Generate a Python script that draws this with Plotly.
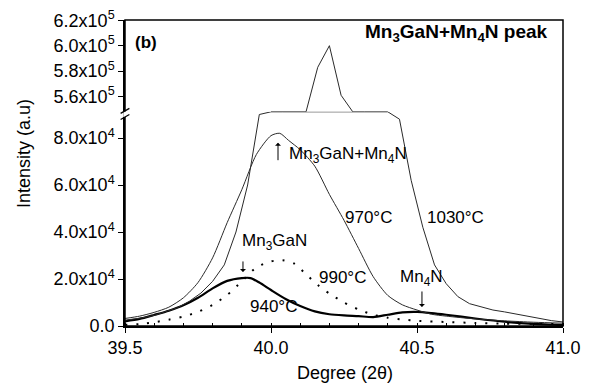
import plotly.graph_objects as go

# ---------------- data ----------------
x_940 = [39.50, 39.55, 39.60, 39.65, 39.70, 39.75, 39.80, 39.85, 39.90, 39.93, 39.96, 40.00,
         40.05, 40.10, 40.15, 40.20, 40.25, 40.30, 40.35, 40.40, 40.45, 40.50, 40.55, 40.60,
         40.70, 40.80, 40.90, 41.00]
y_940 = [2.0e3, 3.0e3, 4.7e3, 6.5e3, 8.8e3, 1.2e4, 1.6e4, 1.92e4, 2.04e4, 2.04e4, 1.85e4, 1.53e4,
         1.15e4, 8.5e3, 6.2e3, 5.0e3, 4.5e3, 4.2e3, 3.8e3, 4.8e3, 5.8e3, 6.0e3, 5.5e3, 4.8e3,
         3.2e3, 1.8e3, 9.0e2, 4.0e2]

x_970 = [39.50, 39.55, 39.60, 39.65, 39.70, 39.75, 39.80, 39.85, 39.90, 39.95, 40.00, 40.03,
         40.06, 40.10, 40.15, 40.20, 40.25, 40.30, 40.35, 40.40, 40.45, 40.50, 40.55, 40.60,
         40.70, 40.80, 40.90, 41.00]
y_970 = [3.2e3, 4.2e3, 5.8e3, 8.0e3, 1.2e4, 1.85e4, 2.9e4, 4.4e4, 5.8e4, 7.3e4, 8.1e4, 8.2e4,
         7.9e4, 7.5e4, 6.8e4, 5.6e4, 4.5e4, 3.3e4, 2.1e4, 1.3e4, 9.0e3, 6.8e3, 5.0e3, 4.2e3,
         3.0e3, 2.2e3, 1.6e3, 1.2e3]

x_990 = [39.50, 39.55, 39.60, 39.65, 39.70, 39.75, 39.80, 39.85, 39.90, 39.95, 40.00, 40.04,
         40.08, 40.12, 40.16, 40.20, 40.25, 40.30, 40.35, 40.40, 40.45, 40.50, 40.60, 40.70,
         40.80, 40.90, 41.00]
y_990 = [5.0e2, 8.0e2, 1.6e3, 2.7e3, 4.0e3, 6.0e3, 9.0e3, 1.32e4, 1.9e4, 2.5e4, 2.75e4, 2.8e4,
         2.65e4, 2.2e4, 1.75e4, 1.38e4, 1.0e4, 7.0e3, 4.8e3, 3.5e3, 2.8e3, 2.2e3, 1.7e3, 1.3e3,
         1.0e3, 9.0e2, 8.0e2]

x_1030 = [39.50, 39.56, 39.60, 39.64, 39.68, 39.72, 39.76, 39.80, 39.84, 39.88, 39.92, 39.96,
          40.00, 40.04, 40.08, 40.12, 40.16, 40.20, 40.24, 40.28, 40.32, 40.36, 40.40, 40.44,
          40.48, 40.52, 40.56, 40.60, 40.64, 40.68, 40.72, 40.76, 40.80, 40.84, 40.88, 40.92,
          40.96, 41.00]
y_1030 = [2.5e3, 3.5e3, 4.5e3, 6.0e3, 7.8e3, 1.05e4, 1.4e4, 1.9e4, 2.6e4, 4.0e4, 6.0e4, 9.0e4,
          1.5e5, 2.4e5, 3.6e5, 5.42e5, 5.83e5, 6.0e5, 5.61e5, 5.45e5, 3.8e5, 2.5e5, 1.5e5, 8.8e4,
          6.2e4, 4.2e4, 2.6e4, 1.8e4, 1.25e4, 9.5e3, 8.0e3, 6.8e3, 6.0e3, 5.0e3, 4.0e3, 3.0e3,
          2.3e3, 1.7e3]

x_ticks = [39.5, 40.0, 40.5, 41.0]
x_ticktext = ["39.5", "40.0", "40.5", "41.0"]
y_low_ticks = [0, 2e4, 4e4, 6e4, 8e4]
y_low_ticktext = ["0.0", "2.0x10<sup>4</sup>", "4.0x10<sup>4</sup>", "6.0x10<sup>4</sup>", "8.0x10<sup>4</sup>"]
y_high_ticks = [5.6e5, 5.8e5, 6.0e5, 6.2e5]
y_high_ticktext = ["5.6x10<sup>5</sup>", "5.8x10<sup>5</sup>", "6.0x10<sup>5</sup>", "6.2x10<sup>5</sup>"]

# axis break
LOW_TOP = 9.115e4
HIGH_BOTTOM = 5.48e5
HIGH_TOP = 6.202e5
SPLIT = 0.7

FONT = "Liberation Sans, Arial, sans-serif"

series = [
    ("940°C", x_940, y_940, dict(color="black", width=2.2, shape="spline", smoothing=0.7)),
    ("970°C", x_970, y_970, dict(color="#2a2a2a", width=1.0, shape="spline", smoothing=0.7)),
    ("990°C", x_990, y_990, dict(color="black", width=2.0, dash="2px,9px", shape="spline", smoothing=0.7)),
    ("1030°C", x_1030, y_1030, dict(color="#2a2a2a", width=1.0)),
]

fig = go.Figure()
for name, xs, ys, line in series:
    low = [min(v, LOW_TOP) for v in ys]
    high = [max(v, HIGH_BOTTOM) if v > LOW_TOP else None for v in ys]
    fig.add_trace(go.Scatter(x=xs, y=low, mode="lines", line=line, name=name,
                             showlegend=False, xaxis="x", yaxis="y"))
    if any(h is not None for h in high):
        fig.add_trace(go.Scatter(x=xs, y=high, mode="lines", line=line, name=name,
                                 showlegend=False, xaxis="x", yaxis="y2", connectgaps=False))

axis_common = dict(showgrid=False, zeroline=False, showline=True, linecolor="black", linewidth=1.5,
                   ticks="outside", ticklen=5, tickwidth=1.2, tickcolor="black", automargin=False,
                   tickfont=dict(family=FONT, size=18, color="black"))

# the page body adds an 8px offset, so the figure is 8px smaller and margins compensate
fig.update_layout(
    width=584, height=377,
    margin=dict(l=117, r=29, t=12, b=59, autoexpand=False),
    paper_bgcolor="white", plot_bgcolor="white",
    xaxis=dict(range=[39.5, 41.0], tickvals=x_ticks, ticktext=x_ticktext, anchor="y",
               minor=dict(dtick=0.1, ticks="inside", ticklen=3, tickcolor="black"),
               **axis_common),
    yaxis=dict(domain=[0, SPLIT], range=[0, LOW_TOP], tickvals=y_low_ticks, ticktext=y_low_ticktext,
               anchor="x", **axis_common),
    yaxis2=dict(domain=[SPLIT, 1], range=[HIGH_BOTTOM, HIGH_TOP], tickvals=y_high_ticks,
                ticktext=y_high_ticktext, anchor="x", ticklabeloverflow="allow", **axis_common),
)

# frame
fig.add_shape(type="rect", xref="paper", yref="paper", x0=0, x1=1, y0=0, y1=1,
              line=dict(color="black", width=1.5), fillcolor="rgba(0,0,0,0)")
# break marks on the left axis
fig.add_shape(type="rect", xref="paper", yref="paper", x0=-0.004, x1=0.004, y0=0.683, y1=0.701,
              line=dict(width=0), fillcolor="white")
for yc in (0.683, 0.703):
    fig.add_shape(type="line", xref="paper", yref="paper", x0=-0.010, x1=0.010,
                  y0=yc - 0.008, y1=yc + 0.008, line=dict(color="black", width=1.3))

ann_font = dict(family=FONT, size=17, color="black")
texts = [
    ("Mn<sub>3</sub>GaN+Mn<sub>4</sub>N", 40.055, 7.28e4),
    ("970°C", 40.247, 4.6e4),
    ("1030°C", 40.527, 4.6e4),
    ("Mn<sub>3</sub>GaN", 39.894, 3.57e4),
    ("990°C", 40.158, 2.08e4),
    ("940°C", 39.921, 8.1e3),
    ("Mn<sub>4</sub>N", 40.435, 2.04e4),
]
for t, xv, yv in texts:
    fig.add_annotation(text=t, x=xv, y=yv, xref="x", yref="y", showarrow=False,
                       xanchor="left", yanchor="middle", font=ann_font)

arrows = [(40.024, 7.8e4, 19), (39.904, 2.3e4, -12), (40.517, 8.1e3, -17)]
for xv, yv, ay in arrows:
    fig.add_annotation(text="", x=xv, y=yv, xref="x", yref="y", showarrow=True,
                       ax=0, ay=ay, arrowhead=1, arrowsize=1, arrowwidth=1, arrowcolor="black")

fig.add_annotation(text="<b>(b)</b>", x=0.018, y=0.928, xref="paper", yref="paper",
                   showarrow=False, xanchor="left", yanchor="middle",
                   font=dict(family=FONT, size=17, color="black"))
fig.add_annotation(text="<b>Mn<sub>3</sub>GaN+Mn<sub>4</sub>N peak</b>", x=0.970, y=0.957,
                   xref="paper", yref="paper", showarrow=False, xanchor="right", yanchor="middle",
                   font=dict(family=FONT, size=19, color="black"))
fig.add_annotation(text="Intensity (a.u)", x=-0.2306, y=0.565, xref="paper", yref="paper",
                   showarrow=False, textangle=-90, xanchor="center", yanchor="middle",
                   font=dict(family=FONT, size=18, color="black"))
fig.add_annotation(text="Degree (2θ)", x=0.502, y=-0.154, xref="paper", yref="paper",
                   showarrow=False, xanchor="center", yanchor="middle",
                   font=dict(family=FONT, size=18, color="black"))

fig.write_html("out.html")
